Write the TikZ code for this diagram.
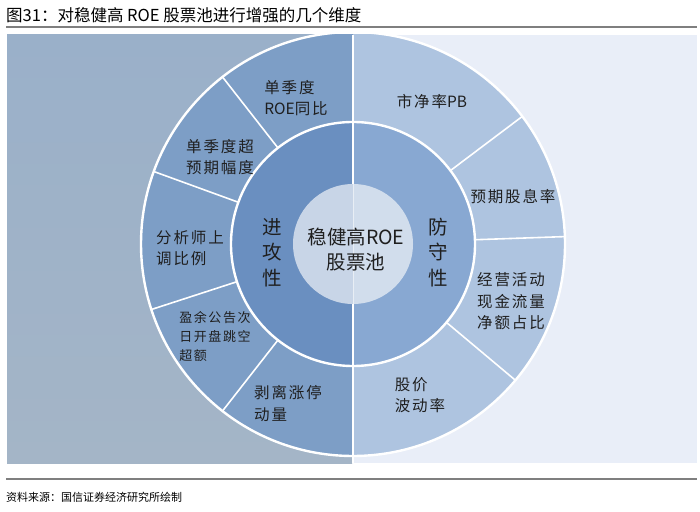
\documentclass[tikz,border=0pt]{standalone}
\usepackage{fontspec}
\setmainfont{Noto Sans CJK SC}
\newfontfamily\ringfont[LetterSpace=12]{Noto Sans CJK SC}
\newfontfamily\plainlatin{Noto Sans CJK SC}
\usepackage{tikz}
\usetikzlibrary{calc}
\definecolor{leftpaneltop}{HTML}{9AB0C9}
\definecolor{leftpanelbot}{HTML}{A4B5C7}
\definecolor{rightpanel}{HTML}{E9EEF8}
\definecolor{leftouter}{HTML}{7D9EC6}
\definecolor{leftmid}{HTML}{6A8FC0}
\definecolor{rightmid}{HTML}{88A8D2}
\definecolor{rightouter}{HTML}{AEC4E0}
\definecolor{coreleft}{HTML}{C8D5E7}
\definecolor{coreright}{HTML}{D1DDEC}
\definecolor{rulegray}{HTML}{7F7F7F}
\tikzset{
  seglabel/.style={font=\ringfont\fontsize{15.5}{21.5}\selectfont,align=left,
                   inner sep=0pt,text=black!88},
  smalllabel/.style={seglabel,font=\ringfont\fontsize{13}{19}\selectfont},
  vlabel/.style={font=\fontsize{19.5}{25.5}\selectfont,align=center,inner sep=0pt,
                 text=black!88},
  divider/.style={draw=white,line width=1.6pt},
  ringline/.style={draw=white,line width=2.4pt},
}

\begin{document}
\begin{tikzpicture}[x=1pt,y=1pt]
  \useasboundingbox (0,0) rectangle (700,511);
  \coordinate (c) at (353,267);
  % title and rules
  \node[anchor=west,inner sep=0pt,font=\fontsize{16.5}{18}\selectfont] (title) at (6,496)
    {图31：对稳健高 ROE 股票池进行增强的几个维度};
  \draw[rulegray,line width=1.6pt] (6,484) -- (697,484);
  \draw[rulegray,line width=1.4pt] (6,32) -- (697,32);
  \node[anchor=west,inner sep=0pt,font=\fontsize{11}{13}\selectfont] (source) at (6,14)
    {资料来源：国信证券经济研究所绘制};
  % panels
  \shade[top color=leftpaneltop,bottom color=leftpanelbot] (7,48) rectangle (352,476);
  \fill[rightpanel] (354,48) rectangle (697,476);
  % outer ring
  \begin{scope}
    \clip (7,48) rectangle (697,476);
    \fill[leftouter] (c) -- ++(90:212) arc[start angle=90,end angle=270,radius=212] -- cycle;
    \fill[rightouter] (c) -- ++(-90:212) arc[start angle=-90,end angle=90,radius=212] -- cycle;
    \draw[ringline] (c) circle[radius=212];
  \end{scope}
  \foreach \a in {128,160,198,232,37,2,-40}
    \draw[divider] ($(c)+(\a:122)$) -- ($(c)+(\a:212)$);
  \draw[white,line width=1.6pt] (353,48) -- (353,476);
  % middle ring
  \fill[leftmid] (c) -- ++(90:122) arc[start angle=90,end angle=270,radius=122] -- cycle;
  \fill[rightmid] (c) -- ++(-90:122) arc[start angle=-90,end angle=90,radius=122] -- cycle;
  \draw[ringline] (c) circle[radius=122];
  \draw[white,line width=1.6pt] ($(c)+(0,122)$) -- ($(c)+(0,-122)$);
  % core
  \fill[coreleft] (c) -- ++(90:60) arc[start angle=90,end angle=270,radius=60] -- cycle;
  \fill[coreright] (c) -- ++(-90:60) arc[start angle=-90,end angle=90,radius=60] -- cycle;
  \draw[white,opacity=0.5,line width=0.8pt] ($(c)+(0,60)$) -- ($(c)+(0,-60)$);

  % labels
  \node[vlabel] (core) at (356,261.5) {稳健高ROE\\股票池};
  \node[vlabel] (attack) at (272,258.5) {进\\攻\\性};
  \node[vlabel] (defense) at (438,258.5) {防\\守\\性};

  \node[seglabel] (roeyoy) at (296,413) {单季度\\{\plainlatin ROE}同比};
  \node[seglabel] (surprise) at (220,354) {单季度超\\预期幅度};
  \node[seglabel] (upgrade) at (190,263) {分析师上\\调比例};
  \node[smalllabel] (gapopen) at (215,174) {盈余公告次\\日开盘跳空\\超额};
  \node[seglabel] (limitup) at (288,107.5) {剥离涨停\\动量};

  \node[seglabel] (pb) at (432,409) {市净率{\plainlatin PB}};
  \node[seglabel] (dividend) at (513,314) {预期股息率};
  \node[seglabel] (cashflow) at (511,209.5) {经营活动\\现金流量\\净额占比};
  \node[seglabel] (volatility) at (420,116) {股价\\波动率};
\end{tikzpicture}
\end{document}
